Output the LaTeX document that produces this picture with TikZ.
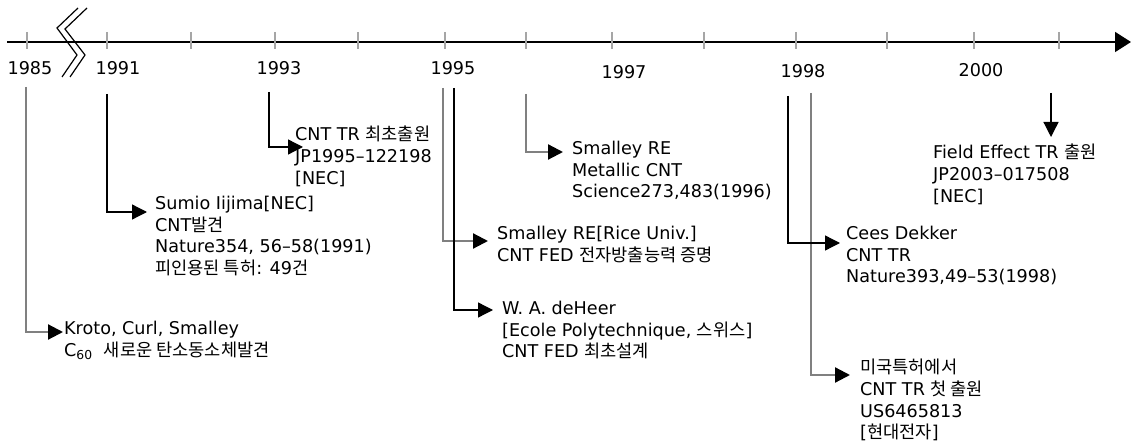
\documentclass[tikz,border=0pt]{standalone}
\usepackage{fontspec}
\setmainfont{DejaVu Sans}
\newfontfamily\krfont{Noto Sans CJK KR}
\newcommand{\kr}[1]{{\krfont #1}}
\usetikzlibrary{arrows.meta}
\tikzset{
  note/.style={anchor=north west,align=left,inner sep=0pt,font=\fontsize{17.6}{21.7}\selectfont,execute at begin node=\strut},
  yearlbl/.style={inner sep=0pt,font=\fontsize{17.6}{20}\selectfont},
  blk/.style={line width=1.3pt,-{Triangle[length=15pt,width=15pt]}},
  gry/.style={line width=2.2pt,black!50,-{Triangle[length=15pt,width=15pt,color=black]}},
  yeartick/.style={line width=1.4pt,gray!70}
}
\begin{document}
\begin{tikzpicture}[x=1pt,y=-1pt]
    \useasboundingbox (0,0) rectangle (1131,446);

    % time axis
    \coordinate (a0) at (7,42);
    \coordinate (a1) at (1131,42);
    \draw[line width=1.6pt,-{Triangle[length=16pt,width=20pt]}] (a0) -- (a1);
    \foreach \x in {27,107,191,275,358,445,526,612,704,796,887,974,1059}
        \draw[yeartick] (\x,32) -- (\x,49);
    \draw[line width=1.2pt] (78,8) -- (57,28) -- (77,55) -- (62,77);
    \draw[line width=1.2pt] (87,8) -- (65,29) -- (85,55) -- (70,77);

    \node[yearlbl] (y85) at (30,68) {1985};
    \node[yearlbl] (y91) at (118,68) {1991};
    \node[yearlbl] (y93) at (279,68) {1993};
    \node[yearlbl] (y95) at (453,68) {1995};
    \node[yearlbl] (y97) at (624,72) {1997};
    \node[yearlbl] (y98) at (803,71) {1998};
    \node[yearlbl] (y00) at (981,70) {2000};

    \node[note] (kroto) at (64,321) {Kroto, Curl, Smalley\\C\textsubscript{60}\ \ \kr{새로운 탄소동소체발견}};
    \node[note] (iijima) at (155,196) {Sumio Iijima[NEC]\\CNT\kr{발견}\\Nature354, 56--58(1991)\\\kr{피인용된 특허}: 49\kr{건}};
    \node[note] (jp95) at (295,126) {CNT TR \kr{최초출원}\\JP1995--122198\\{}[NEC]};
    \node[note] (rice) at (497,226) {Smalley RE[Rice Univ.]\\CNT FED \kr{전자방출능력 증명}};
    \node[note] (deheer) at (502,301) {W. A. deHeer\\{}[Ecole Polytechnique, \kr{스위스}]\\CNT FED \kr{최초설계}};
    \node[note] (metal) at (572,141) {Smalley RE\\Metallic CNT\\Science273,483(1996)};
    \node[note] (dekker) at (846,226) {Cees Dekker\\CNT TR\\Nature393,49--53(1998)};
    \node[note] (us98) at (860,359) {\kr{미국특허에서}\\CNT TR \kr{첫 출원}\\US6465813\\{}[\kr{현대전자}]};
    \node[note] (jp00) at (933,144) {Field Effect TR \kr{출원}\\JP2003--017508\\{}[NEC]};

    \coordinate (t85) at (26,87);   \coordinate (e85) at (63,332);
    \coordinate (t91) at (107,94);  \coordinate (e91) at (147,212);
    \coordinate (t93) at (269,92);  \coordinate (e93) at (303,147);
    \coordinate (t95a) at (443,88); \coordinate (e95a) at (488,241);
    \coordinate (t95b) at (454,88); \coordinate (e95b) at (493,310);
    \coordinate (t96) at (526,94);  \coordinate (e96) at (563,152);
    \coordinate (t98a) at (788,96); \coordinate (e98a) at (840,243);
    \coordinate (t98b) at (811,93); \coordinate (e98b) at (850,375);
    \coordinate (t00) at (1051,93); \coordinate (e00) at (1051,137);

    \draw[gry] (t85) |- (e85);
    \draw[blk] (t91) |- (e91);
    \draw[blk] (t93) |- (e93);
    \draw[gry] (t95a) |- (e95a);
    \draw[blk] (t95b) |- (e95b);
    \draw[gry] (t96) |- (e96);
    \draw[gry] (t98b) |- (e98b);
    \draw[blk] (t98a) |- (e98a);
    \draw[blk] (t00) -- (e00);
\end{tikzpicture}
\end{document}
